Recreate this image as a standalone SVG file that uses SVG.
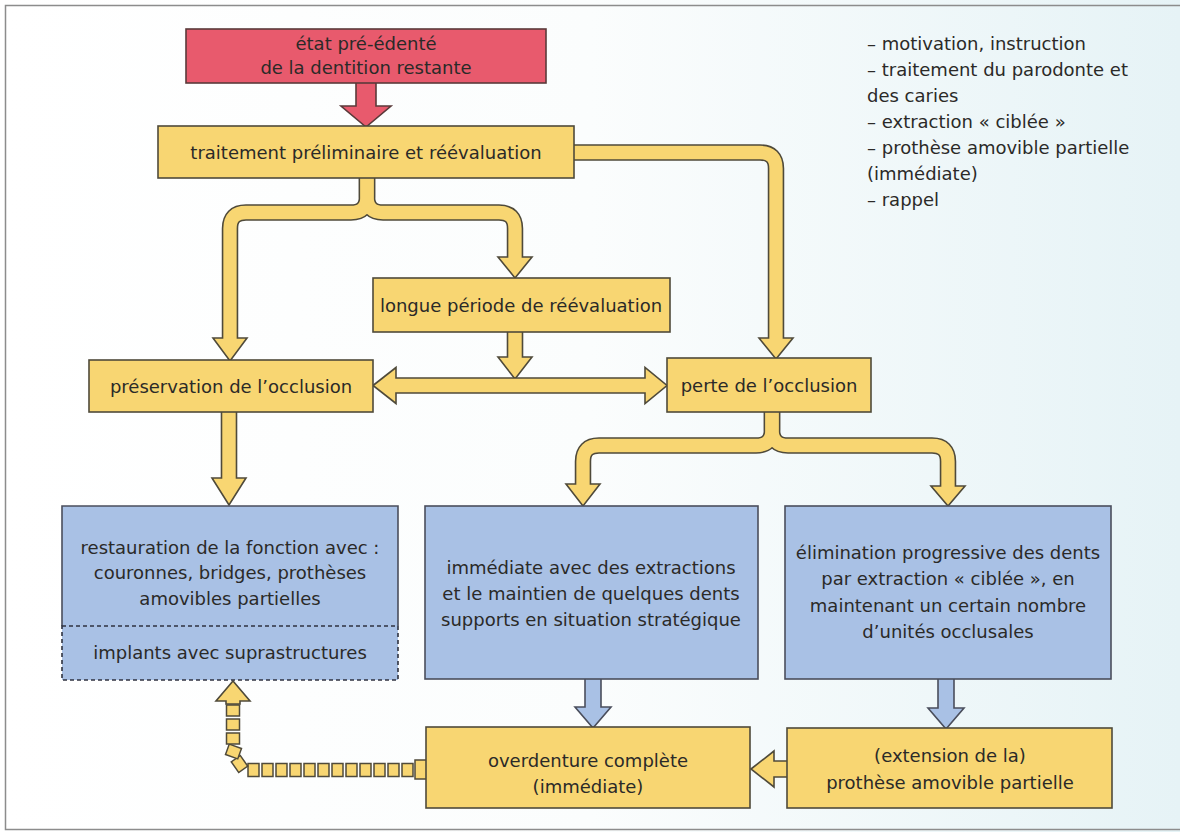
<svg xmlns="http://www.w3.org/2000/svg" width="1180" height="832" viewBox="0 0 1180 832">
<defs>
<linearGradient id="bg" x1="0" y1="0" x2="1" y2="0">
<stop offset="0" stop-color="#ffffff"/>
<stop offset="0.5" stop-color="#fbfdfd"/>
<stop offset="1" stop-color="#e6f3f6"/>
</linearGradient>
<style>
.t{font-family:"DejaVu Sans","Liberation Sans",sans-serif;font-size:18px;fill:#2b2a28;text-anchor:middle}
.lg{font-family:"DejaVu Sans","Liberation Sans",sans-serif;font-size:18px;fill:#2b2a28;text-anchor:start}
.yb{fill:#f8d672;stroke:#4f4a3a;stroke-width:1.6}
.bb{fill:#a9c1e5;stroke:#4a4e5c;stroke-width:1.6}
.rb{fill:#e85a6d;stroke:#5a3a3a;stroke-width:1.6}
.bandO{fill:none;stroke:#4f4a3a;stroke-width:16.5}
.bandI{fill:none;stroke:#f8d672;stroke-width:13.3}
.ya{fill:#f8d672;stroke:#4f4a3a;stroke-width:1.6;stroke-linejoin:miter}
.ba{fill:#a9c1e5;stroke:#4a4e5c;stroke-width:1.6}
.ra{fill:#e85a6d;stroke:#5a3a3a;stroke-width:1.6}
.sq{fill:#f8d672;stroke:#4f4a3a;stroke-width:1.5}
</style>
</defs>
<rect x="0" y="0" width="1180" height="832" fill="url(#bg)"/>
<rect x="5.5" y="5.5" width="1190" height="824" fill="none" stroke="#8c8c8c" stroke-width="1.5"/>

<g id="connectors">
<path class="bandO" d="M570,152.5 H760 Q776,152.5 776,168.5 V340"/>
<path class="bandO" d="M367,176 V196.5 Q367,212.5 351,212.5 H246 Q230,212.5 230,228.5 V340"/>
<path class="bandO" d="M367,176 V196.5 Q367,212.5 383,212.5 H499 Q515,212.5 515,228.5 V259"/>
<path class="bandO" d="M772,410 V429.5 Q772,445.5 756,445.5 H599 Q583,445.5 583,461.5 V486"/>
<path class="bandO" d="M772,410 V429.5 Q772,445.5 788,445.5 H932 Q948,445.5 948,461.5 V488"/>
<polygon class="ya" points="759,338 793,338 776,359"/>
<polygon class="ya" points="213,338 247,338 230,361"/>
<polygon class="ya" points="498,257 532,257 515,278"/>
<polygon class="ya" points="566,484 600,484 583,506"/>
<polygon class="ya" points="931,486 965,486 948,506"/>
<path class="bandI" d="M570,152.5 H760 Q776,152.5 776,168.5 V340"/>
<path class="bandI" d="M367,176 V196.5 Q367,212.5 351,212.5 H246 Q230,212.5 230,228.5 V340"/>
<path class="bandI" d="M367,176 V196.5 Q367,212.5 383,212.5 H499 Q515,212.5 515,228.5 V259"/>
<path class="bandI" d="M772,410 V429.5 Q772,445.5 756,445.5 H599 Q583,445.5 583,461.5 V486"/>
<path class="bandI" d="M772,410 V429.5 Q772,445.5 788,445.5 H932 Q948,445.5 948,461.5 V488"/>

<polygon class="ra" points="356,82 376,82 376,106 391,106 366,127 341,106 356,106"/>
<polygon class="ya" points="507.5,331 522.5,331 522.5,357 532,357 515,379 498,357 507.5,357"/>
<polygon class="ya" points="373,385.5 396,367.5 396,378 645,378 645,367.5 667,385.5 645,403.5 645,393 396,393 396,403.5"/>
<polygon class="ya" points="221.5,411 236.5,411 236.5,478 246,478 229,505 212,478 221.5,478"/>
<polygon class="ba" points="585,678 601,678 601,707 611,707 593,728 575,707 585,707"/>
<polygon class="ba" points="938,678 954,678 954,708 964,708 946,729 928,708 938,708"/>
<polygon class="ya" points="751,769 774,751 774,761 789,761 789,777 774,777 774,787"/>
<rect class="sq" x="415" y="760" width="16" height="19"/>
<rect class="sq" x="402" y="763.5" width="11" height="13"/>
<rect class="sq" x="388" y="763.5" width="11" height="13"/>
<rect class="sq" x="374" y="763.5" width="11" height="13"/>
<rect class="sq" x="360" y="763.5" width="11" height="13"/>
<rect class="sq" x="346" y="763.5" width="11" height="13"/>
<rect class="sq" x="332" y="763.5" width="11" height="13"/>
<rect class="sq" x="318" y="763.5" width="11" height="13"/>
<rect class="sq" x="304" y="763.5" width="11" height="13"/>
<rect class="sq" x="290" y="763.5" width="11" height="13"/>
<rect class="sq" x="276" y="763.5" width="11" height="13"/>
<rect class="sq" x="262" y="763.5" width="11" height="13"/>
<rect class="sq" x="248" y="763.5" width="11" height="13"/>
<rect class="sq" x="-5.5" y="-6.5" width="11" height="13" transform="translate(239.5,764) rotate(-35)"/>
<rect class="sq" x="-5.5" y="-6.5" width="11" height="13" transform="translate(233.5,751.5) rotate(-70)"/>
<rect class="sq" x="226.5" y="733" width="13" height="11"/>
<rect class="sq" x="226.5" y="719" width="13" height="11"/>
<rect class="sq" x="226.5" y="705" width="13" height="11"/>
<polygon class="ya" points="233,681 250,701 240,701 240,704 226,704 226,701 216,701"/>
</g>

<g id="n-etat">
<rect class="rb" x="186" y="29" width="360" height="54"/>
<text class="t" x="366" y="50">état pré-édenté</text>
<text class="t" x="366" y="74">de la dentition restante</text>
</g>

<g id="n-traitement">
<rect class="yb" x="158" y="126" width="416" height="52"/>
<text class="t" x="366" y="158.5">traitement préliminaire et réévaluation</text>
</g>

<g id="n-legende">
<text class="lg" x="867" y="50">– motivation, instruction</text>
<text class="lg" x="867" y="76">– traitement du parodonte et</text>
<text class="lg" x="867" y="102">des caries</text>
<text class="lg" x="867" y="128">– extraction « ciblée »</text>
<text class="lg" x="867" y="154">– prothèse amovible partielle</text>
<text class="lg" x="867" y="180">(immédiate)</text>
<text class="lg" x="867" y="206">– rappel</text>
</g>

<g id="n-longue">
<rect class="yb" x="373" y="278" width="297" height="54"/>
<text class="t" x="521" y="311.5">longue période de réévaluation</text>
</g>

<g id="n-preservation">
<rect class="yb" x="89" y="360" width="284" height="52"/>
<text class="t" x="231" y="392.5">préservation de l’occlusion</text>
</g>

<g id="n-perte">
<rect class="yb" x="667" y="358" width="204" height="54"/>
<text class="t" x="769" y="391.5">perte de l’occlusion</text>
</g>

<g id="n-restauration">
<rect fill="#a9c1e5" x="62" y="506" width="336" height="174"/>
<path d="M62,626 V506 H398 V626" fill="none" stroke="#4a4e5c" stroke-width="1.6"/>
<path d="M62,626 H398 V680 H62 Z" fill="none" stroke="#2f3240" stroke-width="1.6" stroke-dasharray="4 3"/>
<text class="t" x="230" y="553.5">restauration de la fonction avec :</text>
<text class="t" x="230" y="579">couronnes, bridges, prothèses</text>
<text class="t" x="230" y="604.5">amovibles partielles</text>
<text class="t" x="230" y="658.5">implants avec suprastructures</text>
</g>

<g id="n-immediate">
<rect class="bb" x="425" y="506" width="333" height="173"/>
<text class="t" x="591" y="573.5">immédiate avec des extractions</text>
<text class="t" x="591" y="599.5">et le maintien de quelques dents</text>
<text class="t" x="591" y="625.5">supports en situation stratégique</text>
</g>

<g id="n-elimination">
<rect class="bb" x="785" y="506" width="326" height="173"/>
<text class="t" x="948" y="558.5">élimination progressive des dents</text>
<text class="t" x="948" y="585">par extraction « ciblée », en</text>
<text class="t" x="948" y="611.5">maintenant un certain nombre</text>
<text class="t" x="948" y="638">d’unités occlusales</text>
</g>

<g id="n-overdenture">
<rect class="yb" x="426" y="727" width="324" height="81"/>
<text class="t" x="588" y="766.5">overdenture complète</text>
<text class="t" x="588" y="792.5">(immédiate)</text>
</g>

<g id="n-extension">
<rect class="yb" x="787" y="728" width="325" height="80"/>
<text class="t" x="950" y="761.5">(extension de la)</text>
<text class="t" x="950" y="788.5">prothèse amovible partielle</text>
</g>
</svg>
